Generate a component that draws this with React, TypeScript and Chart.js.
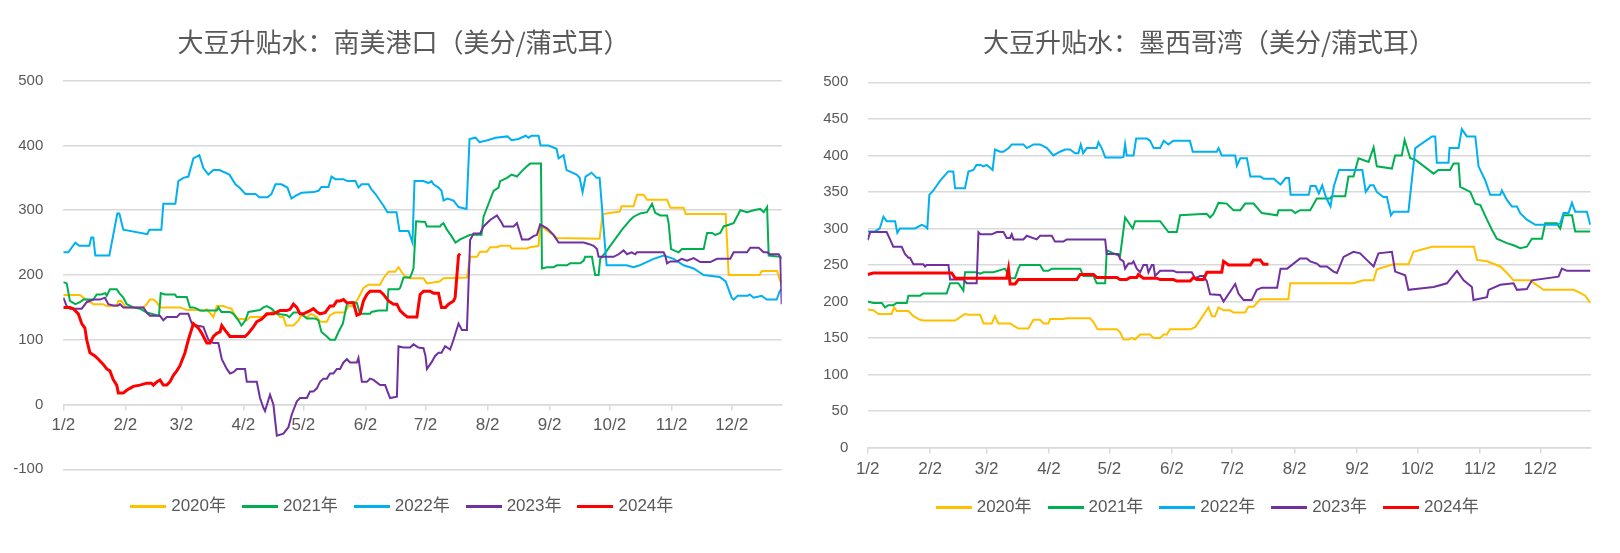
import React, { useEffect, useRef } from "react";
import { Chart, registerables } from "chart.js";

Chart.register(...registerables);

// ---------- data ----------
const TICK_DAYS = [0, 31, 59, 90, 120, 151, 181, 212, 243, 273, 304, 334];
const TICK_LABELS = ["1/2", "2/2", "3/2", "4/2", "5/2", "6/2", "7/2", "8/2", "9/2", "10/2", "11/2", "12/2"];
const YEARS = ["2020年", "2021年", "2022年", "2023年", "2024年"];

// day offset from Jan 2, value (US cents / bushel)
const SA_2020: [number, number][] = [[0,169],[8.3,169],[10,165],[12.5,160],[15,155],[20,155],[21.7,152],[26.7,152],[27.5,160],[29,160],[30.8,152],[31.7,150],[40,150],[41.7,155],[43.3,162],[45,162],[46.7,158],[48.3,150],[58.3,150],[60,148],[61.7,146],[67.5,146],[70,144],[71.7,147],[75,135],[76.7,152],[80,152],[81.7,150],[84,148],[85.8,138],[87.5,132],[90,132],[91.7,130],[93.3,135],[100,135],[103.3,140],[105,145],[106.7,140],[108.3,135],[110,135],[111.3,122],[115,122],[117.5,130],[119,138],[121.7,135],[124,140],[126.7,135],[128.3,128],[131.7,128],[133.3,138],[135.8,142],[140.8,142],[142.5,152],[145,152],[147.5,165],[150,180],[152.5,185],[158.3,185],[160,195],[162.5,205],[165.8,205],[167.5,212],[169,205],[170.8,198],[173.3,195],[180,195],[181.7,187],[188,190],[190,195],[201.7,196],[203.3,228],[206.7,228],[208.3,236],[211.7,236],[213.3,243],[216.7,243],[218.3,245],[223.3,245],[224,241],[231.7,241],[233.3,243],[237.5,245],[238.3,277],[246.7,257],[268,256],[269.5,294],[278,298],[279,306],[285,306],[286.7,324],[290,324],[291.7,316],[301.7,316],[303.3,304],[310,304],[311,294],[331,294],[332.5,200],[348,200],[349,206],[356.7,206],[358.3,190],[359,188]];
const SA_2021: [number, number][] = [[0,189],[1.7,187],[3.3,160],[6,155],[8.3,158],[10,162],[15,162],[16.7,170],[19,170],[21,172],[21.7,168],[23.3,178],[26.7,178],[28,172],[30,165],[31.7,155],[35,150],[38.3,148],[41.7,142],[46.7,138],[47.8,137],[48.7,172],[50.8,170],[55.8,170],[56.7,166],[61.7,166],[63.3,150],[65,150],[66.7,148],[68.3,145],[76.7,145],[77.5,150],[79,143],[83.3,143],[85,140],[87.5,130],[89,122],[91,130],[92.5,143],[98.3,146],[100,150],[101.7,152],[104,148],[106.7,140],[111.7,138],[113,135],[115,142],[117.5,142],[119,140],[121.7,133],[125.8,133],[127.5,130],[129,112],[131.7,105],[133.3,100],[135.8,100],[137.5,112],[139.7,125],[141.7,155],[144,158],[146.7,157],[148.3,140],[153.3,140],[154,143],[157.5,145],[161.7,145],[162.5,178],[167.5,178],[168.3,180],[170,196],[173.3,196],[175,210],[176.3,283],[180.8,282],[181.7,275],[188.3,275],[189,278],[190,280],[191.7,270],[194,260],[196,250],[198.3,255],[203.3,262],[209,262],[210,290],[212.5,310],[215,330],[217.5,335],[218.3,345],[221.7,350],[224,355],[226.7,352],[229,360],[231.7,368],[233.3,372],[238.7,372],[239.2,210],[241.7,212],[245,212],[246.7,215],[251.7,215],[253.3,218],[258.3,218],[260,222],[260.8,228],[264.2,228],[264.7,218],[265.8,200],[267.5,200],[268.3,225],[269.2,228],[271.7,238],[279.2,270],[283.3,285],[285,290],[288.3,295],[291.7,297],[294.2,310],[295.8,296],[298.3,292],[301.7,292],[302.5,280],[303.7,240],[307.5,235],[309.2,240],[320,240],[321.7,265],[324.2,265],[325.8,262],[328.3,265],[330,275],[335,280],[335.8,285],[338.3,300],[341.7,297],[345,300],[348.3,302],[350,297],[351.7,305],[352.5,230],[358.3,228],[359,225]];
const SA_2022: [number, number][] = [[0,235],[2.5,235],[6,250],[8,245],[13,245],[14,258],[15,258],[16,230],[23,230],[27,295],[28,295],[30,270],[42,263],[43,270],[49,270],[50,310],[56,310],[57.5,345],[60,350],[62.5,352],[65,380],[68,385],[70,365],[72.5,355],[75,362],[78,362],[83,355],[86,340],[88,335],[91,325],[96,325],[98,320],[102,320],[104,325],[106,340],[109,340],[112,335],[114,318],[116,322],[119,327],[125,328],[127.5,330],[129,336],[132.5,336],[134,352],[136,348],[140,348],[142,345],[146,345],[147.5,335],[149,340],[152.5,340],[154,332],[156,325],[160,307],[162,297],[166.5,297],[168,268],[172.5,268],[174.5,250],[175.5,345],[177,345],[180,345],[182.5,342],[184,345],[185,340],[187.5,335],[189,330],[190,315],[192,318],[195,315],[197.5,305],[201.5,302],[203,410],[206,412],[208,405],[212,408],[216,412],[222,414],[224,408],[227.5,410],[231,415],[232.5,412],[234,415],[237.5,415],[238.5,400],[242.5,400],[246.5,395],[247.5,380],[250,385],[251.5,362],[256.5,355],[258,350],[259.5,328],[261,352],[264,358],[266.5,350],[268,350],[271.5,215],[281.5,215],[285,212],[288,215],[291.5,220],[295,225],[300,230],[305,225],[310,215],[315,210],[320,200],[328,197],[331,190],[334,165],[335,162],[337,168],[342,168],[343,170],[345,165],[349,168],[351.5,162],[356.5,162],[358,175],[359,178]];
const SA_2023: [number, number][] = [[0,165],[1.7,152],[3.3,148],[9.2,148],[11.7,158],[15,162],[18.3,162],[20.8,165],[22.5,155],[25,153],[27.5,153],[28.3,155],[30,150],[40,150],[41.7,142],[43.3,137],[48.3,137],[50,130],[51.7,135],[56.7,135],[58.3,140],[62.5,140],[64.2,125],[66.7,122],[70,120],[72.5,100],[75,95],[77.5,95],[79.2,70],[81.7,55],[83.3,48],[85,50],[86.7,55],[90.8,55],[91.7,35],[96.7,35],[98.3,10],[100,-5],[100.8,-10],[103.3,15],[105,0],[106.7,-48],[110,-45],[112.5,-35],[114.2,-15],[116.7,5],[118.3,10],[121.7,10],[123.3,20],[125,20],[126.7,25],[128.3,35],[130,40],[131.7,40],[133.3,48],[135,48],[136.7,55],[138.3,55],[140,65],[141.7,70],[143.3,65],[146.7,65],[147.5,72],[149.2,35],[151.7,35],[153.3,40],[155,38],[158.3,30],[160.8,30],[163.3,10],[166.7,12],[167.5,90],[170,88],[173.3,88],[175,93],[177.5,88],[180,87],[181,75],[181.7,55],[184,65],[185.8,75],[187.5,80],[189,80],[190.8,90],[193.3,85],[195,100],[197.5,125],[199.2,115],[201.7,115],[203.3,254],[205,264],[208.3,264],[210,275],[213.3,285],[216.7,292],[219.2,280],[220,275],[225,275],[226.7,280],[229.2,255],[232.5,255],[235,260],[236.7,262],[238.3,278],[241.7,272],[245,262],[247.5,250],[260,250],[262.5,248],[265,245],[266.7,240],[267.5,228],[275,228],[277.5,232],[280,238],[281.7,232],[284,235],[285.8,232],[286.7,235],[300,235],[300.8,230],[301.7,218],[303.3,221],[306.7,221],[309,225],[311.7,222],[315,226],[318.3,220],[323.3,220],[326.7,225],[333.3,225],[335,235],[341.7,235],[343.3,242],[347.5,242],[350,235],[351.7,235],[353.3,232],[357.5,232],[358.3,228],[359,155]];
const SA_2024: [number, number][] = [[0,150],[3.3,150],[5,148],[7.5,140],[9.2,125],[10.8,118],[11.7,100],[13.3,80],[15.8,75],[17.5,70],[20,62],[21.7,55],[23.3,52],[25,38],[26.7,30],[27.5,18],[30,18],[31.7,22],[33.3,25],[35,28],[38.3,30],[41.7,33],[44,33],[45,30],[46.7,35],[48.3,38],[50,30],[51.7,30],[53.3,35],[55,45],[56.7,52],[58.3,60],[60.8,80],[62.5,100],[65,125],[67.5,118],[69.2,110],[71.7,95],[73.3,95],[75,105],[76.7,110],[78.3,112],[79.2,122],[80.8,115],[83.3,105],[90.8,105],[92.5,110],[95,120],[96.7,128],[99.2,132],[101.7,140],[105,140],[108.3,145],[111.7,145],[113.3,147],[115,155],[116.7,150],[118.3,140],[120,140],[123.3,145],[125,148],[126.7,143],[128.3,140],[130.8,142],[133.3,152],[135,152],[136.7,160],[138.3,160],[140,162],[141.7,157],[145,157],[146.7,138],[148.3,140],[150,160],[151.7,170],[153.3,175],[158.3,175],[160,170],[162.5,160],[165,155],[166.7,155],[168.3,145],[170,140],[172,135],[176.7,135],[178.3,170],[180,175],[183.3,175],[185,172],[187.5,172],[189,150],[191,150],[192.5,155],[195,160],[195.8,165],[197.5,230],[198.3,233]];

const MX_2020: [number, number][] = [[0,189],[2.8,188],[5.3,183],[11.9,183],[13.1,192],[14.4,187],[20.2,187],[22.7,180],[26,175],[27.6,174],[43.4,174],[46.7,180],[48.3,183],[50,182],[55.8,182],[57.5,170],[61.6,170],[63.2,180],[64.9,170],[70.7,170],[72.4,167],[74.8,163],[79.8,163],[82.3,175],[85.6,175],[87.3,170],[89.7,170],[90.6,176],[97.2,176],[98.8,177],[110.4,177],[112.1,172],[114.1,162],[123.7,162],[125.3,158],[127,148],[129.5,148],[131.1,150],[132.8,148],[135.3,155],[140.2,155],[141.9,150],[145.2,150],[146.9,155],[148.5,155],[150.2,162],[160.1,162],[162.6,165],[165.1,175],[167.5,185],[169.2,192],[170.9,180],[172.5,180],[174.2,192],[176.7,188],[180,188],[181.6,185],[187.4,185],[189,193],[191.6,193],[194.9,203],[208.9,203],[209.8,225],[241.2,225],[246.2,229],[251.2,229],[252.8,244],[261.1,251],[268.5,251],[269.4,257],[271,268],[280.2,275],[301,275],[302.6,257],[307.5,255],[314.1,248],[317.4,239],[320.7,229],[328.9,229],[335.6,216],[350.5,216],[353.8,212],[356.3,208],[358.8,198]];
const MX_2021: [number, number][] = [[0,200],[2.8,198],[7,198],[8.6,192],[10.3,195],[12.7,195],[14.4,198],[19.4,198],[20.2,208],[26,208],[27.6,211],[39.2,211],[40.9,225],[45,225],[47.5,215],[48.3,240],[54.1,240],[55.8,238],[57.5,240],[62.4,240],[68.2,245],[70.7,232],[73.2,232],[74.8,245],[75.7,250],[85.6,250],[87.3,242],[89.7,242],[91.4,245],[105.5,245],[107.1,235],[112.1,235],[113.7,225],[117.9,225],[118.7,270],[125.3,262],[127.8,315],[131.6,300],[132.8,310],[145.2,310],[149.3,295],[153.5,295],[155.1,318],[168.3,320],[170,315],[171.7,320],[174.2,335],[178.3,334],[181.6,325],[185,325],[187.4,334],[191.6,334],[195.7,321],[203.3,318],[204,325],[210.6,325],[212.3,321],[214.7,325],[219.7,325],[223,341],[229.6,341],[230.4,344],[237.1,344],[238.7,371],[241.2,371],[243.7,396],[248.7,391],[251.2,411],[252.8,385],[260.3,382],[261.9,400],[265.2,400],[266.6,421],[269.4,396],[271.9,394],[281,375],[283.4,380],[289.2,380],[290.9,389],[293.4,389],[294.2,357],[299.2,350],[301.7,334],[304.2,332],[307.5,312],[310,298],[312.4,286],[315.7,282],[317.4,280],[320.7,277],[324,273],[327.3,275],[329.8,286],[334.8,286],[336.4,307],[342.2,307],[343.9,300],[345.5,318],[349.7,318],[351.3,296],[358.8,296]];
const MX_2022: [number, number][] = [[0,296],[3.6,296],[6,300],[7.8,316],[9.4,310],[13.6,310],[14.7,294],[16,300],[23.5,300],[26.8,305],[28.5,303],[29.6,300],[30.6,346],[32.6,352],[35.9,365],[40,378],[42.5,378],[43.4,355],[48.3,355],[50,378],[52.5,380],[54,387],[56,387],[57.5,385],[59,387],[60.8,383],[62,380],[63.2,408],[65.7,405],[67.4,405],[70,410],[71.5,415],[77.3,415],[79,410],[82.3,415],[85.6,415],[89,410],[90.6,405],[92.2,400],[95.5,405],[98,408],[100.5,408],[103,403],[104.6,403],[105.8,415],[107,403],[108.8,410],[113.7,410],[114.6,418],[116.2,410],[118,397],[126,397],[127,398],[127.8,415],[128.6,400],[132,400],[133.3,423],[138.6,423],[140.2,420],[142,410],[145.2,410],[147,420],[149.3,415],[151.8,420],[160,420],[161.4,405],[173.3,405],[174.2,410],[175.8,400],[182.5,400],[183.3,386],[185,396],[188.3,396],[190,371],[195,371],[196.7,368],[201.7,368],[203.3,364],[205,360],[207.5,369],[209.2,369],[210,346],[219,346],[219.9,358],[222.4,358],[224,348],[225.7,359],[227.5,343],[229.8,330],[231.5,358],[234,380],[245.6,380],[247.3,350],[249.5,359],[251.2,359],[252.8,350],[256.1,343],[257.8,343],[259.8,318],[261.1,323],[268.5,323],[271.9,410],[280.2,426],[281.8,426],[282.6,390],[288.4,390],[288.9,410],[293.4,410],[295,436],[297.5,426],[301.7,426],[303.3,385],[306.6,366],[309.1,346],[314.1,346],[314.9,352],[317.4,339],[319.9,330],[322.4,330],[324,321],[327.3,312],[331.5,305],[342.2,305],[343.9,307],[345.5,321],[348,321],[349.7,335],[351.3,323],[357.1,323],[358.8,305]];
const MX_2023: [number, number][] = [[0,284],[1.2,295],[9.4,295],[11.1,285],[12.7,275],[16.9,275],[18.5,265],[20.2,260],[21,260],[22.7,251],[27.6,251],[28.5,248],[29.3,250],[40.1,250],[40.9,230],[47.5,230],[49.2,225],[54.1,225],[55,295],[56,292],[61.6,292],[64.1,295],[67.4,295],[69,287],[70.7,287],[71.5,292],[72.4,285],[77.3,285],[79,290],[83.9,285],[85.6,290],[91.4,290],[93,282],[97.2,282],[98.8,285],[117.9,285],[118.7,265],[124.5,265],[125.3,258],[127,255],[127.8,245],[129.5,252],[131.1,252],[132,255],[133.6,245],[135.3,240],[136.9,250],[138.6,250],[139.4,240],[141.1,250],[141.9,250],[142.7,235],[145.2,242],[151.8,242],[153.5,240],[160.9,240],[162.6,232],[165.1,235],[166.7,235],[168.4,228],[170,210],[175,209],[176.7,200],[179.1,210],[182.5,224],[184.1,211],[186.6,202],[190.7,202],[193.2,216],[195.7,219],[203.3,219],[205,245],[208.3,245],[214.7,259],[218,259],[219.7,255],[223,252],[224.7,248],[228,248],[231.3,241],[233,239],[236.3,261],[241.2,268],[244.5,266],[247.8,257],[251.2,248],[253.6,266],[260.3,268],[261.9,241],[266.9,236],[268.5,216],[274.3,218],[281,220],[287.6,225],[292.6,242],[295.9,229],[300,220],[300.8,202],[307.5,206],[308.3,216],[314.1,223],[320.7,225],[322.4,216],[327.3,217],[329.8,229],[343,234],[344.7,245],[347.2,242],[358.8,242]];
const MX_2024: [number, number][] = [[0,237],[2.8,239],[41.7,239],[43.4,232],[69,232],[69.9,245],[70.7,224],[73.2,224],[74.8,230],[103.8,230],[105.5,237],[112.1,237],[113.7,233],[123.7,233],[125.3,230],[128.6,230],[130.3,233],[133.6,233],[134.4,237],[136.9,232],[143.5,232],[145.2,230],[151.8,230],[153.5,228],[160.1,228],[161.8,233],[163.4,230],[166.7,230],[168.4,240],[175.8,240],[176.7,255],[179.2,250],[190,250],[191.6,257],[194.9,257],[196.5,251],[199,251]];

// ---------- styles ----------
const COLORS = ["#FFC000", "#00B050", "#00B0F0", "#7030A0", "#FF0000"];
const TEXT = "#595959";
const GRID = "#D9D9D9";
const CJK = "'Noto Sans CJK SC', sans-serif";
const LATIN = "'Liberation Sans', Arial, 'Noto Sans CJK SC', sans-serif";

function lineImage(color: string) {
  const c = document.createElement("canvas");
  c.width = 36;
  c.height = 3;
  const g = c.getContext("2d")!;
  g.fillStyle = color;
  g.fillRect(0, 0, 36, 3);
  return c;
}

type Props = {
  title: string;
  series: [number, number][][];
  yMin: number;
  yMax: number;
  yStep: number;
  pad: { top: number; left: number; right: number; bottom: number };
  yWidth: number;
  rWidth: number;
  yLabelPad: number;
  titleBottom: number;
  legendGap: number;
};

function LineChart(p: Props) {
  const ref = useRef<HTMLCanvasElement>(null);
  useEffect(() => {
    const imgs = COLORS.map(lineImage);
    const chart = new Chart(ref.current!, {
      type: "line",
      data: {
        datasets: p.series.map((s, i) => ({
          label: YEARS[i],
          data: s.map(([x, y]) => ({ x, y })),
          borderColor: COLORS[i],
          backgroundColor: COLORS[i],
          borderWidth: i === 4 ? 3 : 2,
          pointRadius: 0,
          tension: 0,
          order: 5 - i,
        })),
      },
      options: {
        responsive: false,
        animation: false,
        layout: { padding: p.pad },
        plugins: {
          title: {
            display: true,
            text: p.title,
            color: TEXT,
            font: { family: CJK, size: 26, weight: "normal", lineHeight: 1.2 },
            padding: { top: 26.1, bottom: p.titleBottom },
          },
          legend: {
            position: "bottom",
            title: { display: true, text: "", font: { size: 1, lineHeight: 1 }, padding: { top: p.legendGap - 1, bottom: 0 } },
            labels: {
              usePointStyle: true,
              pointStyleWidth: 29,
              boxHeight: 3,
              padding: 19.5,
              color: TEXT,
              font: { family: LATIN, size: 17 },
              generateLabels: () =>
                YEARS.map((t, i) => ({
                  text: t,
                  fillStyle: COLORS[i],
                  strokeStyle: COLORS[i],
                  lineWidth: 0,
                  pointStyle: imgs[i] as any,
                  hidden: false,
                  datasetIndex: i,
                  fontColor: TEXT,
                })),
            },
          },
          tooltip: { enabled: false },
        },
        scales: {
          x: {
            type: "linear",
            position: { y: 0 } as any,
            min: 0,
            max: 359,
            afterBuildTicks: (s: any) => {
              s.ticks = TICK_DAYS.map((v) => ({ value: v }));
            },
            ticks: {
              autoSkip: false,
              maxRotation: 0,
              padding: 6,
              color: TEXT,
              font: { family: LATIN, size: 17 },
              callback: (_v: any, i: number) => TICK_LABELS[i],
            },
            grid: { drawOnChartArea: false, drawTicks: true, tickLength: 5, color: GRID, lineWidth: 1.5 },
            border: { display: true, color: GRID, width: 1.5 },
          },
          y: {
            position: "left",
            min: p.yMin,
            max: p.yMax,
            afterFit: (s: any) => {
              s.width = p.yWidth;
            },
            ticks: { stepSize: p.yStep, padding: p.yLabelPad, color: TEXT, font: { family: LATIN, size: 15 } },
            grid: { color: GRID, lineWidth: 1.5, drawTicks: false },
            border: { display: false },
          },
          yr: {
            position: "right",
            display: true,
            min: 0,
            max: 1,
            afterFit: (s: any) => {
              s.width = p.rWidth;
            },
            ticks: { display: false },
            grid: { display: false, drawTicks: false },
            border: { display: false },
          },
        },
      },
    });
    return () => chart.destroy();
  }, []);
  return <canvas ref={ref} width={810} height={553} style={{ display: "block", width: 810, height: 553 }} />;
}

export default function App() {
  return (
    <div style={{ position: "absolute", left: 0, top: 0, width: 1620, height: 553, background: "#fff" }}>
      <div style={{ position: "absolute", left: 0, top: 0 }}>
        <LineChart
          title="大豆升贴水：南美港口（美分/蒲式耳）"
          series={[SA_2020, SA_2021, SA_2022, SA_2023, SA_2024]}
          yMin={-100}
          yMax={500}
          yStep={100}
          pad={{ top: 0, left: 10, right: 13, bottom: 27.9 }}
          yWidth={53.3}
          rWidth={15.3}
          yLabelPad={20}
          titleBottom={23.4}
          legendGap={9.3}
        />
      </div>
      <div style={{ position: "absolute", left: 810, top: 0 }}>
        <LineChart
          title="大豆升贴水：墨西哥湾（美分/蒲式耳）"
          series={[MX_2020, MX_2021, MX_2022, MX_2023, MX_2024]}
          yMin={0}
          yMax={500}
          yStep={50}
          pad={{ top: 0, left: 10, right: 22, bottom: 26.8 }}
          yWidth={47.7}
          rWidth={7.3}
          yLabelPad={19.4}
          titleBottom={25}
          legendGap={32}
        />
      </div>
    </div>
  );
}
